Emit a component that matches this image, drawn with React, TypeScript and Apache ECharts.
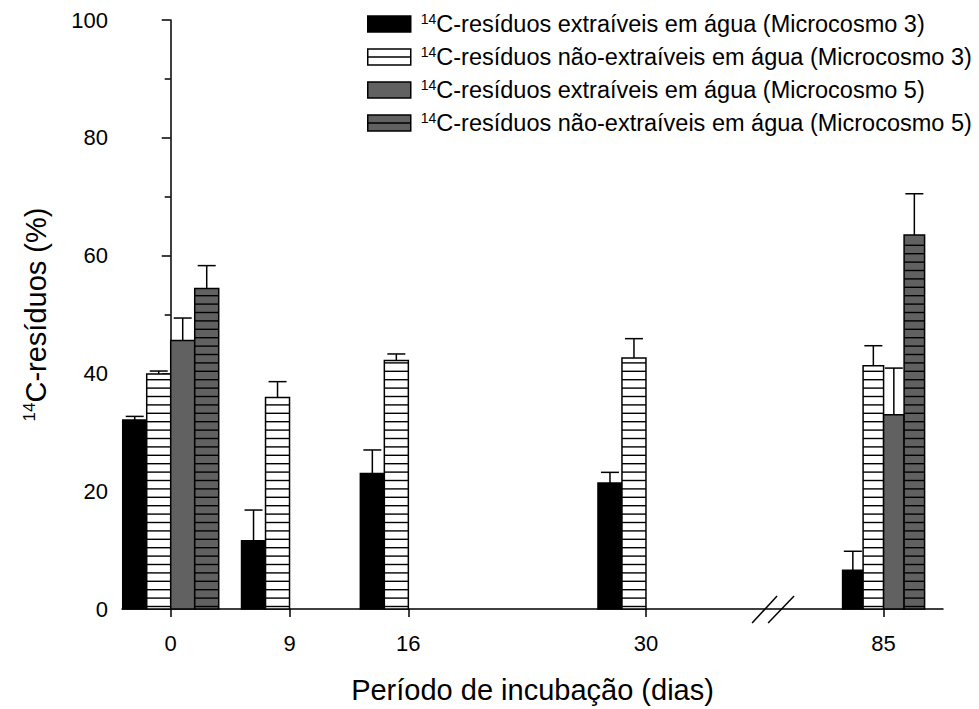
import React, { useEffect, useRef } from 'react';
import * as echarts from 'echarts';

// Categories (incubation days) and their slot on the broken x axis
const days = ['0', '9', '16', '30', '85'];
const slots = [0, 1, 2, 4, 6];

const seriesNames = [
  'C-resíduos extraíveis em água (Microcosmo 3)',
  'C-resíduos não-extraíveis em água (Microcosmo 3)',
  'C-resíduos extraíveis em água (Microcosmo 5)',
  'C-resíduos não-extraíveis em água (Microcosmo 5)',
];

// values (%) and upper error bars
const ext3 = [32.1, 11.6, 23.0, 21.4, 6.6];
const ext3Err = [0.6, 5.2, 4.0, 1.8, 3.2];
const nonExt3 = [39.9, 35.9, 42.2, 42.6, 41.3];
const nonExt3Err = [0.5, 2.7, 1.1, 3.3, 3.4];
const ext5 = [45.6, null, null, null, 33.0];
const ext5Err = [3.8, null, null, null, 7.9];
const nonExt5 = [54.4, null, null, null, 63.5];
const nonExt5Err = [3.9, null, null, null, 7.0];

const yTicks = [0, 20, 40, 60, 80, 100];

const FONT = '"Liberation Sans", Arial, sans-serif';
const GRAY = '#616161';
const BAR_PX = [24, 24, 24, 24, 20.5];
const BREAK_X = 5.07;

const styles = [
  { fill: '#000000', striped: false },
  { fill: '#ffffff', striped: true },
  { fill: GRAY, striped: false },
  { fill: GRAY, striped: true },
];

function makeRender(k: number) {
  const { fill, striped } = styles[k];
  return (params: any, api: any) => {
    const v = Number(api.value(1));
    if (!isFinite(v) || v <= 0) return null;
    const slot = api.value(0);
    const e = Number(api.value(2)) || 0;
    const base = api.coord([slot, 0]);
    const topPt = api.coord([slot, v]);
    const errPt = api.coord([slot, v + e]);
    const bw = BAR_PX[params.dataIndex];
    const x0 = base[0] + (k - 2) * bw;
    const cx = x0 + bw / 2;
    const children: any[] = [];
    children.push({
      type: 'rect',
      shape: { x: x0, y: topPt[1], width: bw, height: base[1] - topPt[1] },
      style: { fill, stroke: '#000', lineWidth: 1.5 },
    });
    if (striped) {
      for (let yy = base[1] - 2.5; yy > topPt[1] + 2; yy -= 8.4) {
        children.push({
          type: 'line',
          shape: { x1: x0, y1: yy, x2: x0 + bw, y2: yy },
          style: { stroke: '#000', lineWidth: 1.4 },
        });
      }
    }
    if (e > 0) {
      children.push({
        type: 'line',
        shape: { x1: cx, y1: topPt[1], x2: cx, y2: errPt[1] },
        style: { stroke: '#000', lineWidth: 1.5 },
      });
      children.push({
        type: 'line',
        shape: { x1: cx - 9, y1: errPt[1], x2: cx + 9, y2: errPt[1] },
        style: { stroke: '#000', lineWidth: 1.5 },
      });
    }
    return { type: 'group', children };
  };
}

const valueSets = [
  [ext3, ext3Err],
  [nonExt3, nonExt3Err],
  [ext5, ext5Err],
  [nonExt5, nonExt5Err],
];

export default function App() {
  const ref = useRef<HTMLDivElement>(null);
  useEffect(() => {
    const chart = echarts.init(ref.current!, null, { renderer: 'svg' });
    const stripedIcon = 'path://M0,0L43,0L43,16L0,16Z M0,8L43,8';
    const option: any = {
      animation: false,
      backgroundColor: '#ffffff',
      textStyle: { fontFamily: FONT, color: '#000' },
      grid: { left: 122, right: 36, top: 20, bottom: 98, containLabel: false },
      legend: {
        orient: 'vertical',
        left: 367,
        top: 12,
        padding: 0,
        itemWidth: 43,
        itemHeight: 16,
        itemGap: 9,
        selectedMode: false,
        data: seriesNames.map((n, k) => ({
          name: n,
          icon: styles[k].striped ? stripedIcon : 'rect',
          itemStyle: { color: styles[k].fill, borderColor: '#000', borderWidth: 1.5 },
        })),
        formatter: (name: string) => `{sup|14}{txt|${name}}`,
        textStyle: {
          fontFamily: FONT,
          color: '#000',
          fontSize: 23.5,
          rich: {
            sup: { fontSize: 14, fontFamily: FONT, color: '#000', verticalAlign: 'top', lineHeight: 24, padding: [0, 0, 0, 5] },
            txt: { fontSize: 23.5, fontFamily: FONT, color: '#000', lineHeight: 24 },
          },
        },
      },
      xAxis: {
        type: 'value',
        min: -0.41,
        max: 6.5,
        name: 'Período de incubação (dias)',
        nameLocation: 'middle',
        nameGap: 66,
        nameTextStyle: { fontFamily: FONT, fontSize: 29, color: '#000' },
        axisLine: { show: true, lineStyle: { color: '#000', width: 1.5 } },
        axisTick: { show: true, length: 8, customValues: slots, lineStyle: { color: '#000', width: 1.5 } },
        axisLabel: {
          customValues: slots,
          formatter: (v: number) => {
            const i = slots.indexOf(Math.round(v));
            return i >= 0 ? days[i] : '';
          },
          fontFamily: FONT,
          fontSize: 22,
          color: '#000',
          margin: 23,
        },
        splitLine: { show: false },
      },
      yAxis: {
        type: 'value',
        min: 0,
        max: 100,
        interval: 20,
        name: '{sup|14}{txt|C-resíduos (%)}',
        nameLocation: 'middle',
        nameGap: 71,
        nameTextStyle: {
          fontFamily: FONT,
          color: '#000',
          fontSize: 29,
          rich: {
            sup: { fontSize: 17, fontFamily: FONT, color: '#000', verticalAlign: 'top', lineHeight: 30 },
            txt: { fontSize: 29, fontFamily: FONT, color: '#000', lineHeight: 30 },
          },
        },
        axisLine: { show: true, lineStyle: { color: '#000', width: 1.5 } },
        axisTick: { show: true, length: 9, lineStyle: { color: '#000', width: 1.5 } },
        minorTick: { show: true, splitNumber: 2, length: 6, lineStyle: { color: '#000', width: 1.5 } },
        axisLabel: {
          fontFamily: FONT,
          fontSize: 22,
          color: '#000',
          margin: 14,
          formatter: (v: number) => (yTicks.includes(v) ? String(v) : ''),
        },
        splitLine: { show: false },
      },
      series: valueSets.map(([vals, errs], k) => ({
        type: 'custom',
        name: seriesNames[k],
        itemStyle: { color: styles[k].fill, borderColor: '#000', borderWidth: 1.5 },
        encode: { x: 0, y: 1 },
        clip: false,
        renderItem: makeRender(k),
        data: slots.map((s, i) => [s, vals[i] == null ? 0 : vals[i], errs[i] == null ? 0 : errs[i]]),
      })),
    };
    chart.setOption(option);

    const p = chart.convertToPixel({ xAxisIndex: 0, yAxisIndex: 0 }, [BREAK_X, 0]) as number[];
    if (p) {
      const [bx, by] = p;
      chart.setOption({
        graphic: [
          { type: 'line', shape: { x1: bx - 21, y1: by + 14, x2: bx + 4, y2: by - 13 }, style: { stroke: '#000', lineWidth: 1.5 }, z: 100 },
          { type: 'line', shape: { x1: bx - 5, y1: by + 14, x2: bx + 21, y2: by - 13 }, style: { stroke: '#000', lineWidth: 1.5 }, z: 100 },
        ],
      });
    }
    return () => chart.dispose();
  }, []);
  return (
    <div
      ref={ref}
      style={{ position: 'fixed', left: 0, top: 0, width: 979, height: 709, background: '#fff' }}
    />
  );
}
